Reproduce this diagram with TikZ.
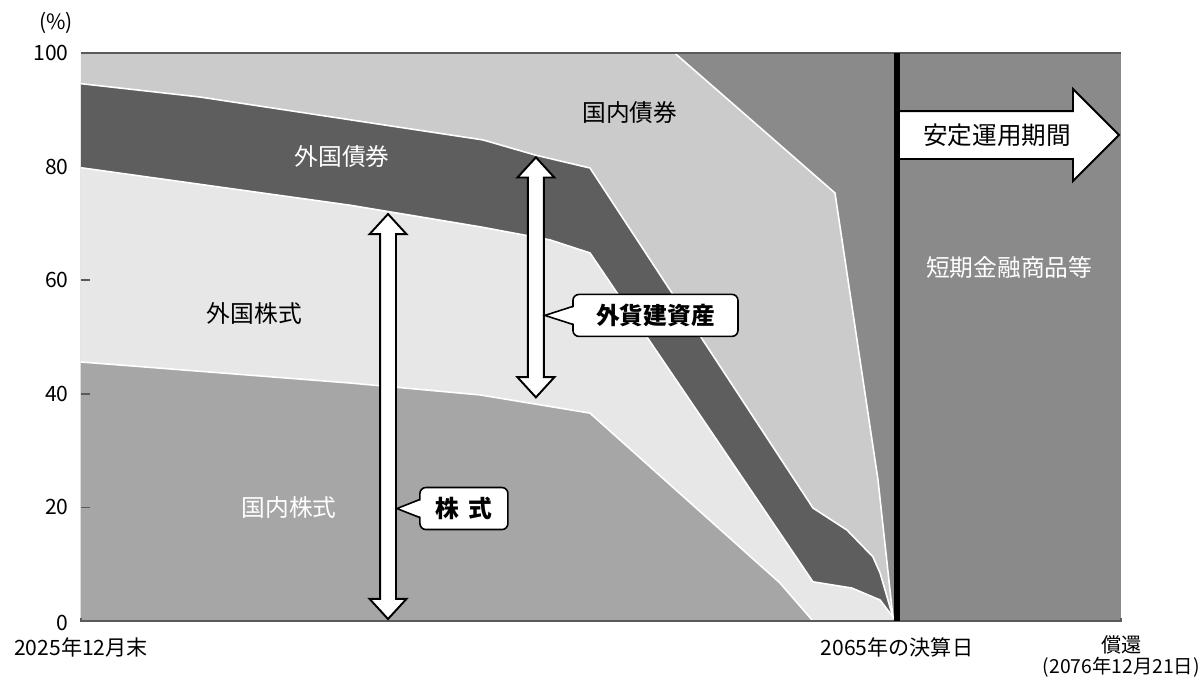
\documentclass[tikz,border=0pt]{standalone}
\usepackage{fontspec}
\setmainfont{Noto Sans CJK JP}
\usetikzlibrary{positioning,shapes.arrows}
\definecolor{domstock}{HTML}{A6A6A6}
\definecolor{forstock}{HTML}{E7E7E7}
\definecolor{forbond}{HTML}{5E5E5E}
\definecolor{dombond}{HTML}{CBCBCB}
\definecolor{shortterm}{HTML}{8A8A8A}
\definecolor{axisgray}{HTML}{5A5A5A}

\begin{document}
\begin{tikzpicture}[x=0.408cm, y=0.1136cm,
  boundary/.style={white, line width=0.9pt, line join=round},
  regionlabel/.style={font=\fontsize{13.5}{16}\selectfont},
  axislabel/.style={font=\fontsize{12}{14}\selectfont},
  spanarrow/.style={double arrow, draw, fill=white, line width=1.1pt, rotate=90, inner xsep=0pt, inner ysep=0.14cm, double arrow head extend=0.21cm, double arrow tip angle=85},
  calloutbox/.style={draw, fill=white, line width=0.9pt, rounded corners=0.12cm, minimum height=0.84cm, inner sep=0pt, font=\bfseries\fontsize{13.5}{16}\selectfont}]
\useasboundingbox (-3.9706,-10.211) rectangle (54.951,109.331);
\fill[shortterm] (0,0) rectangle (51,100);
\fill[dombond] (0,0) -- (0,100) -- (29.1,100) -- (36.96,75.35) -- (39.07,24.8) -- (39.8,0.7) -- (40,0) -- cycle;
\fill[forbond] (0,0) -- (0,94.6) -- (5.83,92.25) -- (19.7,84.7) -- (22.3,82.0) -- (24.95,79.75) -- (35.88,19.9) -- (37.55,16.0) -- (38.82,11.3) -- (39.17,8.45) -- (39.8,0.7) -- (40,0) -- cycle;
\fill[forstock] (0,0) -- (0,79.8) -- (13.19,73.2) -- (19.56,69.4) -- (22.99,67.1) -- (24.95,64.8) -- (35.88,6.9) -- (37.79,5.8) -- (39.17,3.7) -- (39.8,0.7) -- (40,0) -- cycle;
\fill[domstock] (0,0) -- (0,45.6) -- (13.19,41.9) -- (19.56,39.8) -- (24.95,36.6) -- (34.26,6.7) -- (35.88,0) -- cycle;
\draw[boundary] (29.1,100) -- (36.96,75.35) -- (39.07,24.8) -- (39.8,0.7) -- (40,0);
\draw[boundary] (0,94.6) -- (5.83,92.25) -- (19.7,84.7) -- (22.3,82.0) -- (24.95,79.75) -- (35.88,19.9) -- (37.55,16.0) -- (38.82,11.3) -- (39.17,8.45) -- (39.8,0.7) -- (40,0);
\draw[boundary] (0,79.8) -- (13.19,73.2) -- (19.56,69.4) -- (22.99,67.1) -- (24.95,64.8) -- (35.88,6.9) -- (37.79,5.8) -- (39.17,3.7) -- (39.8,0.7) -- (40,0);
\draw[boundary] (0,45.6) -- (13.19,41.9) -- (19.56,39.8) -- (24.95,36.6) -- (34.26,6.7) -- (35.88,0);
\draw[axisgray, line width=1pt] (0,100) -- (51,100);
\draw[axisgray, line width=1.1pt] (0,0.6) -- (0,0) -- (51,0) -- (51,0.6);
\draw[axisgray, line width=1pt] (0,20) -- (0.45,20);
\draw[axisgray, line width=1pt] (0,40) -- (0.45,40);
\draw[axisgray, line width=1pt] (0,60) -- (0.45,60);
\draw[axisgray, line width=1pt] (0,80) -- (0.45,80);
\draw[line width=3pt] (40,0) -- (40,100);
\node[axislabel] (unit) at (-1.23,105.3) {(\%)};
\node[axislabel, anchor=east] (yhundred) at (-0.3,100) {100};
\node[axislabel, anchor=east] (yeighty) at (-0.3,80) {80};
\node[axislabel, anchor=east] (ysixty) at (-0.3,60) {60};
\node[axislabel, anchor=east] (yforty) at (-0.3,40) {40};
\node[axislabel, anchor=east] (ytwenty) at (-0.3,20) {20};
\node[axislabel, anchor=east] (yzero) at (-0.3,-0.3) {0};
\node[axislabel] (startdate) at (0,-4.6) {2025年12月末};
\node[axislabel] (closedate) at (40,-4.6) {2065年の決算日};
\node[font=\fontsize{11.5}{13}\selectfont] (redeem) at (51,-4.2) {償還};
\node[font=\fontsize{11}{13}\selectfont] (redeemdate) at (51,-8.1) {(2076年12月21日)};
\node[regionlabel] (dombondlbl) at (26.9,89.6) {国内債券};
\node[regionlabel, text=white] (forbondlbl) at (12.8,81.7) {外国債券};
\node[regionlabel] (forstocklbl) at (8.5,54.2) {外国株式};
\node[regionlabel, text=white] (domstocklbl) at (10.2,19.9) {国内株式};
\node[regionlabel, text=white] (shortlbl) at (45.5,62.3) {短期金融商品等};
\node[single arrow, draw, fill=white, line width=1.1pt, anchor=tail, minimum height=4.4cm, single arrow head extend=0.44cm, inner xsep=0.1cm, inner ysep=0.245cm, text height=0.4cm, text depth=0.03cm, font=\fontsize{14}{16}\selectfont] (stablearrow) at (40.05,85.56) {安定運用期間};
\node[spanarrow, minimum height=8.1cm] (stockspan) at (15.05,36.0) {};
\node[spanarrow, minimum height=4.8cm] (fxspan) at (22.3,60.5) {};
\node[calloutbox, minimum width=1.76cm] (stockcall) at (18.77,19.8) {株\hspace{0.4em}式};
\node[calloutbox, minimum width=3.3cm] (fxcall) at (28.16,53.8) {外貨建資産};
\fill[white] ([xshift=2pt,yshift=5pt]stockcall.west) -- (stockspan.south |- stockcall.west) -- ([xshift=2pt,yshift=-5pt]stockcall.west) -- cycle;
\draw[line width=0.9pt] ([yshift=5pt]stockcall.west) -- (stockspan.south |- stockcall.west) -- ([yshift=-5pt]stockcall.west);
\fill[white] ([xshift=2pt,yshift=5pt]fxcall.west) -- (fxspan.south |- fxcall.west) -- ([xshift=2pt,yshift=-5pt]fxcall.west) -- cycle;
\draw[line width=0.9pt] ([yshift=5pt]fxcall.west) -- (fxspan.south |- fxcall.west) -- ([yshift=-5pt]fxcall.west);
\end{tikzpicture}
\end{document}
